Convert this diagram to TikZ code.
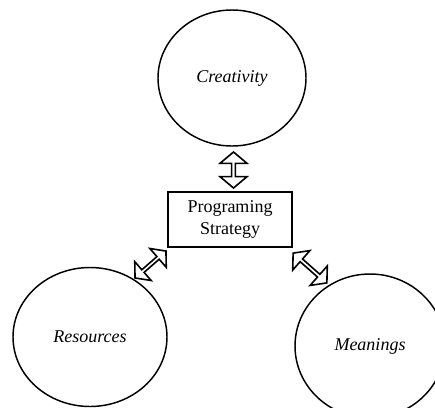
\documentclass[tikz,border=0pt]{standalone}
\usepackage{fontspec}
\setmainfont{Liberation Serif}
\usetikzlibrary{shapes.geometric,shapes.arrows}
\newdimen\px \px=0.75pt
\tikzset{
  circ/.style={ellipse, draw, line width=1.1pt, inner sep=0pt, font=\fontsize{13.5}{15}\selectfont\itshape},
  box/.style={rectangle, draw, line width=0.9pt, inner sep=0pt, align=center, font=\fontsize{13.5}{16}\selectfont},
  dblarrow/.style={double arrow, draw, line width=1.2pt, inner sep=0pt, double arrow head extend=5\px, double arrow tip angle=100, fill=white},
}
\begin{document}
\begin{tikzpicture}[x=0.75pt, y=-0.75pt]
\useasboundingbox (0,0) rectangle (435,407);
\clip (0,0) rectangle (435,407);
\node[circ, minimum width=148\px, minimum height=136\px] (cre) at (232,78) {Creativity};
\node[box, minimum width=124\px, minimum height=55\px] (prog) at (230,219.5) {Programing\\Strategy};
\node[circ, minimum width=154\px, minimum height=139\px] (res) at (90,337) {Resources};
\node[circ, minimum width=150\px, minimum height=144\px] (mea) at (370,346) {Meanings};
% connectors
\coordinate (a1) at (233.5,152);
\coordinate (a2) at (233.5,188);
\coordinate (b1) at (135,278);
\coordinate (b2) at (166,251);
\coordinate (c1) at (293,253);
\coordinate (c2) at (327,283);
\path (a1) -- (a2) node[midway, sloped, dblarrow, minimum height=36\px, minimum width=27\px] (arrA) {};
\path (b1) -- (b2) node[midway, sloped, dblarrow, minimum height=41\px, minimum width=25\px] (arrB) {};
\path (c1) -- (c2) node[midway, sloped, dblarrow, minimum height=45\px, minimum width=26\px] (arrC) {};
\end{tikzpicture}
\end{document}
